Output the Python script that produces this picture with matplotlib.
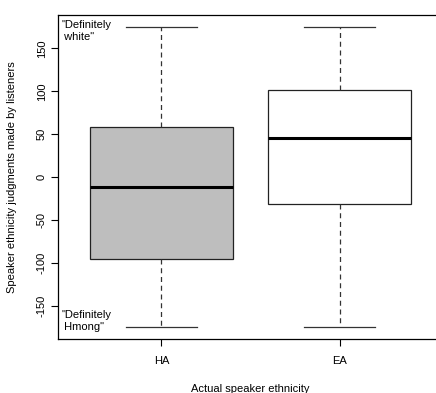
import matplotlib
matplotlib.use("Agg")
import matplotlib.pyplot as plt

plt.rcParams['font.family'] = ['Liberation Sans', 'DejaVu Sans']
plt.rcParams['font.size'] = 8

# box summaries
groups = ['HA', 'EA']
whisker_low = [-175, -175]
q1 = [-96, -31]
medians = [-12, 45]
q3 = [58, 102]
whisker_high = [175, 175]
box_colors = ['#BEBEBE', 'white']
y_ticks = [-150, -100, -50, 0, 50, 100, 150]

stats = []
for i, name in enumerate(groups):
    stats.append({'label': name, 'whislo': whisker_low[i], 'q1': q1[i],
                  'med': medians[i], 'q3': q3[i], 'whishi': whisker_high[i],
                  'fliers': []})

fig = plt.figure(figsize=(4.36, 3.93), dpi=100)
# right edge of the plot region runs past the image, as in the original
ax = fig.add_axes([58 / 436, 54 / 393, 385 / 436, 324 / 393])

bp = ax.bxp(stats, positions=[1, 2], widths=0.8, patch_artist=True,
            showfliers=False, capwidths=0.4,
            boxprops=dict(edgecolor='#222222', linewidth=0.9),
            whiskerprops=dict(color='#333333', linestyle=(0, (4, 3)), linewidth=0.9),
            capprops=dict(color='#333333', linewidth=0.9),
            medianprops=dict(color='black', linewidth=2.2))
for patch, c in zip(bp['boxes'], box_colors):
    patch.set_facecolor(c)

ax.set_xlim(0.42, 2.58)
ax.set_ylim(-189, 189)
ax.set_yticks(y_ticks)
ax.set_yticklabels([str(t) for t in y_ticks], rotation=90, va='center')
ax.tick_params(axis='y', length=5, pad=3, width=0.8)
ax.tick_params(axis='x', length=5, pad=7, width=0.8)
for s in ax.spines.values():
    s.set_linewidth(0.9)

ax.text(0.437, 170, '"Definitely\n white"', ha='left', va='center', linespacing=1.25)
ax.text(0.437, -168, '"Definitely\n Hmong"', ha='left', va='center', linespacing=1.25)

ax.set_xlabel('Actual speaker ethnicity', labelpad=13)
ax.set_ylabel('Speaker ethnicity judgments made by listeners', labelpad=14)

fig.savefig('out.png', dpi=100)
